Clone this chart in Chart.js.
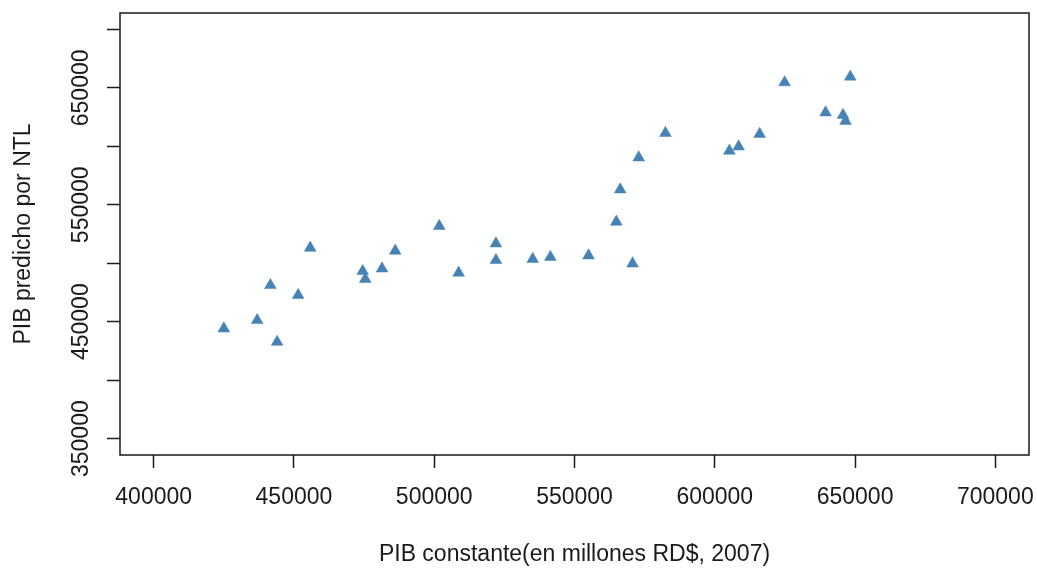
<!DOCTYPE html>
<html>
<head>
<meta charset="utf-8">
<script src="https://cdn.jsdelivr.net/npm/chart.js@4.4.0/dist/chart.umd.min.js"></script>
<style>
  html, body { margin: 0; padding: 0; background: #ffffff; }
  #wrap { width: 1037px; height: 570px; }
</style>
</head>
<body>
<div id="wrap"><canvas id="chart" width="1037" height="570"></canvas></div>
<script>
// PIB constante (x) y PIB predicho por NTL (y)
const pibConstante = [
  425000, 436900, 441600, 444000, 451500, 455800, 474500, 475400, 481400, 486100,
  501800, 508700, 522000, 522000, 535100, 541400, 555000, 564900, 566300, 570700,
  572900, 582400, 605200, 608500, 616000, 624900, 639500, 645700, 646600, 648300
];
const pibPredicho = [
  444100, 451300, 481200, 432700, 472700, 513100, 493200, 486400, 495400, 510600,
  531700, 491800, 516800, 502600, 503500, 505200, 506600, 535400, 563000, 499700,
  590400, 611300, 596100, 599800, 610400, 654600, 628900, 626700, 621600, 659500
];
const xTicks = [400000, 450000, 500000, 550000, 600000, 650000, 700000];
const yTicks = [350000, 400000, 450000, 500000, 550000, 600000, 650000, 700000];
const yLabels = [350000, 450000, 550000, 650000];

const xTitle = "PIB constante(en millones RD$, 2007)";
const yTitle = "PIB predicho por NTL";

const fontFamily = "'Liberation Sans', Arial, sans-serif";
const fontSize = 23;
const ink = "#1a1a1a";

const points = pibConstante.map((x, i) => ({ x: x, y: pibPredicho[i] }));

// box around the plot region plus the rotated y tick labels
const rPlotBox = {
  id: "rPlotBox",
  afterDraw(chart) {
    const { ctx, chartArea, scales } = chart;
    ctx.save();
    ctx.strokeStyle = ink;
    ctx.lineWidth = 1.5;
    ctx.strokeRect(chartArea.left, chartArea.top,
      chartArea.right - chartArea.left, chartArea.bottom - chartArea.top);

    ctx.fillStyle = ink;
    ctx.font = fontSize + "px " + fontFamily;
    ctx.textAlign = "center";
    ctx.textBaseline = "alphabetic";
    yLabels.forEach(v => {
      const py = scales.y.getPixelForValue(v);
      ctx.save();
      ctx.translate(88, py);
      ctx.rotate(-Math.PI / 2);
      ctx.fillText(String(v), 0, 0);
      ctx.restore();
    });
    ctx.restore();
  }
};

new Chart(document.getElementById("chart"), {
  type: "scatter",
  data: {
    datasets: [{
      data: points,
      pointStyle: "triangle",
      pointRadius: 6.8,
      pointHoverRadius: 6.8,
      backgroundColor: "#4682B4",
      borderColor: "#4682B4",
      borderWidth: 0.5
    }]
  },
  options: {
    responsive: false,
    animation: false,
    layout: { padding: { top: 13, right: 8, left: 0, bottom: 0 } },
    plugins: {
      legend: { display: false },
      tooltip: { enabled: false }
    },
    scales: {
      x: {
        type: "linear",
        min: 388000,
        max: 712000,
        afterBuildTicks: s => { s.ticks = xTicks.map(v => ({ value: v })); },
        afterFit: s => {
          s.height = 115;
          s.paddingLeft = 0;
          s.paddingRight = 0;
        },
        border: { display: false },
        grid: {
          drawOnChartArea: false,
          drawTicks: true,
          tickLength: 13,
          tickColor: ink,
          tickWidth: 1.5
        },
        ticks: {
          color: ink,
          padding: 16,
          maxRotation: 0,
          autoSkip: false,
          font: { family: fontFamily, size: fontSize },
          callback: v => String(v)
        },
        title: {
          display: true,
          text: xTitle,
          color: ink,
          font: { family: fontFamily, size: fontSize },
          padding: { top: 0, bottom: 2 }
        }
      },
      y: {
        type: "linear",
        min: 336000,
        max: 714000,
        afterBuildTicks: s => { s.ticks = yTicks.map(v => ({ value: v })); },
        afterFit: s => {
          s.width = 120;
          s.paddingTop = 0;
          s.paddingBottom = 0;
        },
        border: { display: false },
        grid: {
          drawOnChartArea: false,
          drawTicks: true,
          tickLength: 13,
          tickColor: ink,
          tickWidth: 1.5
        },
        ticks: { display: false },
        title: {
          display: true,
          text: yTitle,
          color: ink,
          font: { family: fontFamily, size: fontSize },
          padding: { top: 10, bottom: 0 }
        }
      }
    }
  },
  plugins: [rPlotBox]
});
</script>
</body>
</html>
